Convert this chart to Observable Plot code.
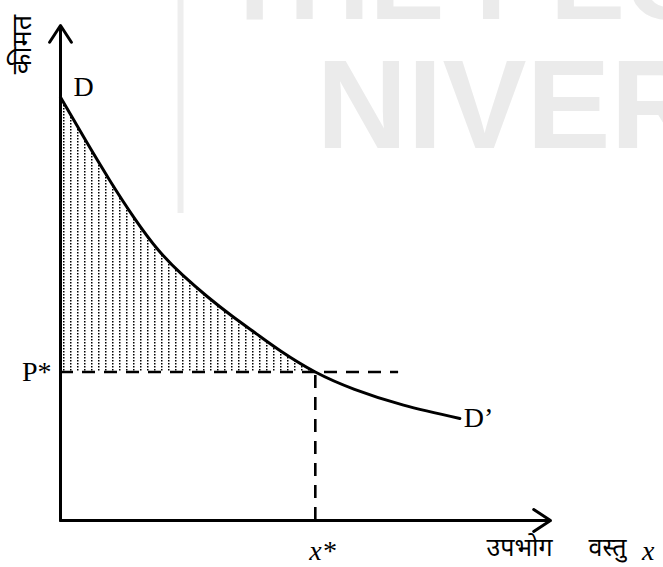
<!DOCTYPE html>
<html>
<head>
<meta charset="utf-8">
<script src="https://cdn.jsdelivr.net/npm/d3@7"></script>
<script src="https://cdn.jsdelivr.net/npm/@observablehq/plot@0.6"></script>
<style>
  html, body { margin: 0; padding: 0; background: #fff; }
</style>
</head>
<body>
<div id="chart"></div>
<script>
// Demand curve D–D' (quantity of good x against price)
const demandX = [0, 0.5, 1, 1.5, 2, 2.5, 3, 3.5, 4, 4.5, 5.2, 6, 7, 8.15];
const demandY = [8.55, 7.70, 6.88, 6.12, 5.46, 4.95, 4.52, 4.13, 3.77, 3.42, 3.0, 2.65, 2.33, 2.06];

// Equilibrium price and quantity
const pStar = 3.0;
const xStar = 5.2;
const priceLineEnd = 6.9;

// Axis extents
const axisMaxX = 10;
const axisMaxY = 10;

// Labels
const curveStartLabel = "D";
const curveEndLabel = "D\u2019";
const priceLabel = "P*";
const quantityLabel = "x*";
const xAxisWords = ["उपभोग", "वस्तु"];
const xAxisVar = "x";
const yAxisLabel = "कीमत";

// Faint logo watermark behind the chart
const watermarkTop = "THE PEOPLE'S";
const watermarkBottom = "NIVERSITY";
const watermarkBarX = 2.45;
const watermarkBarY = [6.2, 10.6];

const demand = demandX.map((x, i) => ({x, y: demandY[i]}));
const surplus = demand.filter(d => d.x <= xStar);
const axes = [
  {x1: 0, y1: 0, x2: axisMaxX, y2: 0},
  {x1: 0, y1: 0, x2: 0, y2: axisMaxY}
];

const serif = "'Liberation Serif', 'Times New Roman', serif";
const deva = "'Noto Sans Devanagari', 'Noto Serif Devanagari', 'Lohit Devanagari', 'FreeSerif', sans-serif";
const wmFont = "'Liberation Sans', Arial, sans-serif";
const wmColor = "#ebebeb";

const svg = Plot.plot({
  width: 663,
  height: 567,
  marginLeft: 60,
  marginRight: 113,
  marginTop: 25,
  marginBottom: 47,
  x: {domain: [0, axisMaxX], axis: null},
  y: {domain: [0, axisMaxY], axis: null},
  style: {background: "#fff"},
  marks: [
    // watermark
    Plot.ruleX([watermarkBarX], {y1: watermarkBarY[0], y2: watermarkBarY[1], stroke: "#eeeeee", strokeWidth: 6}),
    Plot.text([watermarkTop], {text: d => d, frameAnchor: "top-left", dx: 160, dy: -7,
      textAnchor: "start", lineAnchor: "bottom", fontSize: 112, fontWeight: "bold",
      fontFamily: wmFont, fill: wmColor}),
    Plot.text([watermarkBottom], {text: d => d, frameAnchor: "top-left", dx: 256, dy: 122,
      textAnchor: "start", lineAnchor: "bottom", fontSize: 126, fontWeight: "bold",
      fontFamily: wmFont, fill: wmColor}),

    // consumer surplus, dotted
    Plot.areaY(surplus, {x: "x", y1: pStar, y2: "y", fill: "url(#dots)", curve: "natural"}),

    // equilibrium guides
    Plot.ruleY([pStar], {x1: 0, x2: priceLineEnd, stroke: "#000", strokeWidth: 2.6, strokeDasharray: "13,9"}),
    Plot.ruleX([xStar], {y1: 0, y2: pStar, stroke: "#000", strokeWidth: 2.6, strokeDasharray: "13,9"}),

    // demand curve
    Plot.line(demand, {x: "x", y: "y", stroke: "#000", strokeWidth: 3, curve: "natural"}),

    // axes with arrowheads
    Plot.arrow(axes, {x1: "x1", y1: "y1", x2: "x2", y2: "y2", stroke: "#000", strokeWidth: 3,
      headLength: 10, headAngle: 66, insetStart: 0, insetEnd: 0}),

    // curve labels
    Plot.text([demand[0]], {x: "x", y: "y", text: () => curveStartLabel, dx: 13, dy: -10,
      textAnchor: "start", fontSize: 28, fontFamily: serif, fill: "#000"}),
    Plot.text([demand[demand.length - 1]], {x: "x", y: "y", text: () => curveEndLabel, dx: 4, dy: 0,
      textAnchor: "start", fontSize: 28, fontFamily: serif, fill: "#000"}),
    Plot.text([pStar], {x: 0, y: d => d, text: () => priceLabel, dx: -9, dy: 0,
      textAnchor: "end", fontSize: 28, fontFamily: serif, fill: "#000"}),
    Plot.text([xStar], {x: d => d, y: 0, text: () => quantityLabel, dx: -6, dy: 31,
      textAnchor: "start", fontSize: 28, fontFamily: serif, fontStyle: "italic", fill: "#000"}),

    // axis titles
    Plot.text([axisMaxX], {x: d => d, y: 0, text: () => xAxisWords[0], dx: -64, dy: 27,
      textAnchor: "start", fontSize: 25, fontFamily: deva, fill: "#000"}),
    Plot.text([axisMaxX], {x: d => d, y: 0, text: () => xAxisWords[1], dx: 38, dy: 27,
      textAnchor: "start", fontSize: 25, fontFamily: deva, fill: "#000"}),
    Plot.text([axisMaxX], {x: d => d, y: 0, text: () => xAxisVar, dx: 104, dy: 31,
      textAnchor: "end", fontSize: 28, fontFamily: serif, fontStyle: "italic", fill: "#000"}),
    Plot.text([axisMaxY], {x: 0, y: d => d, text: () => yAxisLabel, dx: -38, dy: 19,
      rotate: -90, textAnchor: "middle", fontSize: 27, fontFamily: deva, fill: "#000"})
  ]
});

// dot pattern for the shaded area
const defs = d3.select(svg).insert("defs", ":first-child");
const pattern = defs.append("pattern")
  .attr("id", "dots")
  .attr("patternUnits", "userSpaceOnUse")
  .attr("width", 7)
  .attr("height", 3);
pattern.append("rect")
  .attr("x", 0).attr("y", 0)
  .attr("width", 1.5).attr("height", 1.5)
  .attr("fill", "#000");

document.getElementById("chart").appendChild(svg);
</script>
</body>
</html>
